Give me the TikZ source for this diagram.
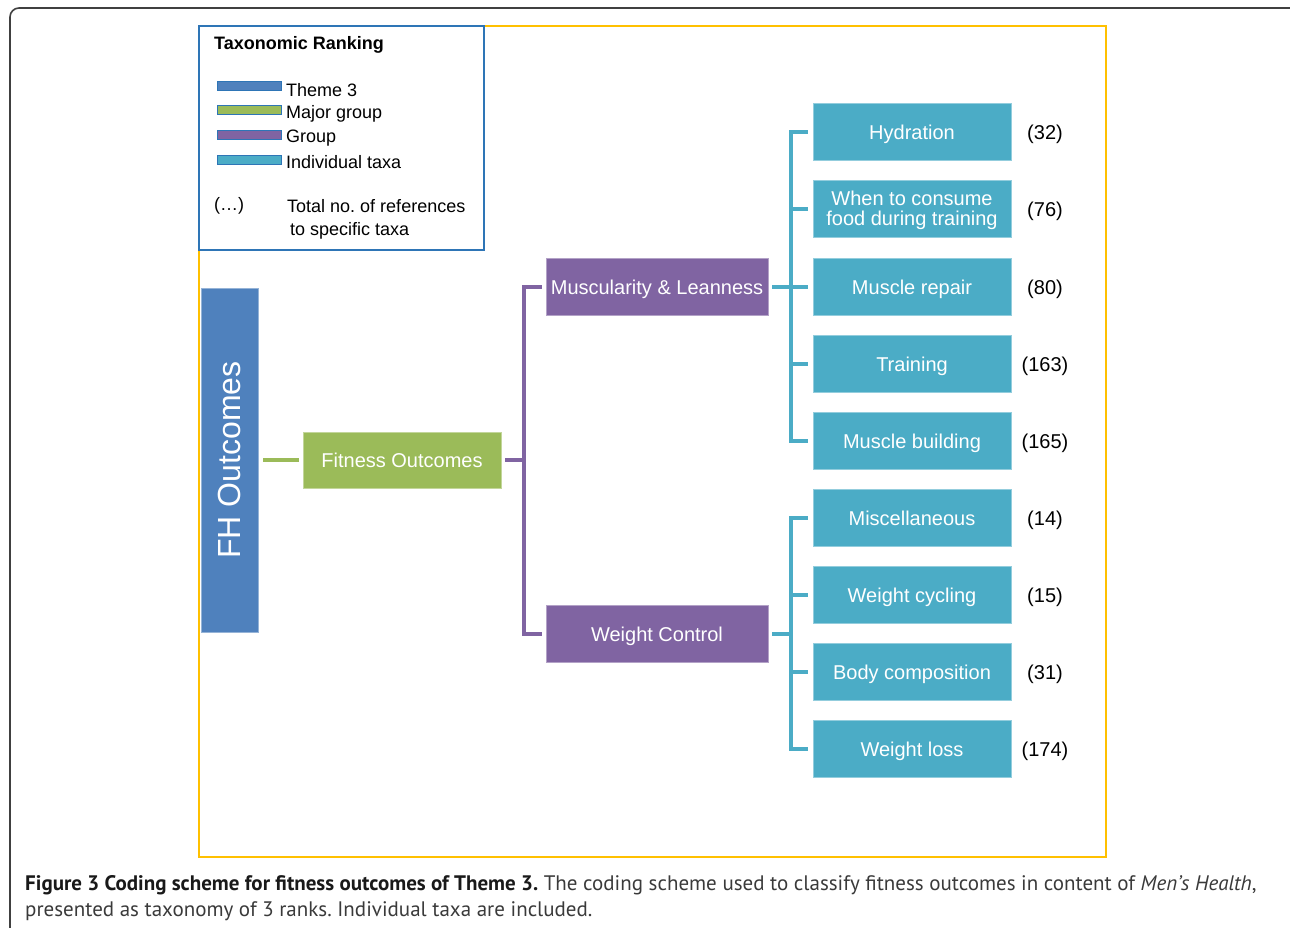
\documentclass[tikz,border=0pt]{standalone}
\usepackage{fontspec}
\setmainfont{Liberation Sans}
\newfontfamily\capfont{PT Sans}
\definecolor{cBlue}{HTML}{4F81BD}
\definecolor{cGreen}{HTML}{9BBB59}
\definecolor{cPurple}{HTML}{8064A2}
\definecolor{cTeal}{HTML}{4BACC6}
\definecolor{cYellow}{HTML}{FFC000}
\definecolor{cLegend}{HTML}{2E75B6}
\definecolor{cCapGray}{HTML}{3A3A3A}
\frenchspacing
\begin{document}
\frenchspacing
\begin{tikzpicture}[x=1pt,y=-1pt,
  boxbase/.style={inner sep=0pt, align=center, text=white, font=\fontsize{20}{22}\selectfont, line width=0.8pt},
  oneline/.style={text height=18.5pt, text depth=4pt},
  fhbox/.style={boxbase, fill=cBlue, draw=cBlue!60!white, minimum width=344pt, minimum height=57pt, rotate=90, font=\fontsize{32}{34}\selectfont},
  greenbox/.style={boxbase, oneline, fill=cGreen, draw=cGreen!60!white, minimum width=198pt, minimum height=56pt},
  purplebox/.style={boxbase, oneline, fill=cPurple, draw=cPurple!60!white, minimum width=222pt, minimum height=57pt},
  tealbox/.style={boxbase, fill=cTeal, draw=cTeal!60!white, minimum width=198pt, minimum height=57pt},
  countlbl/.style={inner sep=0pt, font=\fontsize{20}{22}\selectfont},
  greenline/.style={draw=cGreen, line width=3.5pt},
  purpleline/.style={draw=cPurple, line width=3.5pt},
  tealline/.style={draw=cTeal, line width=3.5pt},
  legbar/.style={draw=cLegend, line width=1pt},
  legtext/.style={anchor=west, inner sep=0pt, font=\fontsize{18}{20}\selectfont},
  captext/.style={anchor=base west, inner sep=0pt, font=\capfont\fontsize{21}{26}\selectfont, text=cCapGray},
]
\useasboundingbox (0,0) rectangle (1290,928);
\clip (0,0) rectangle (1290,928);
% outer frame
\draw[black!75, line width=1.6pt, rounded corners=9pt] (10,8) rectangle (1300,940);
% yellow frame
\draw[cYellow, line width=1.6pt] (199,26) rectangle (1106,857);
% legend
\draw[cLegend, line width=1.6pt, fill=white] (199,26) rectangle (484,250);
\node[legtext, font=\bfseries\fontsize{18}{20}\selectfont] (legtitle) at (214,45) {Taxonomic Ranking};
\draw[legbar, fill=cBlue]   (217,82) rectangle (281,91);
\draw[legbar, fill=cGreen]  (217,106) rectangle (281,115);
\draw[legbar, fill=cPurple] (217,131) rectangle (281,140);
\draw[legbar, fill=cTeal]   (217,156) rectangle (281,165);
\node[legtext] (lg1) at (286,90) {Theme 3};
\node[legtext] (lg2) at (286,114) {Major group};
\node[legtext] (lg3) at (286,138) {Group};
\node[legtext] (lg4) at (286,162) {Individual taxa};
\node[legtext] (lgdots) at (214,206) {(…)};
\node[legtext] (lgtot) at (287,206) {Total no. of references};
\node[legtext] (lgspec) at (290,231) {to specific taxa};
% main boxes
\node[fhbox] (fh) at (229.5,460) {FH Outcomes};
\node[greenbox] (fo) at (402,460) {Fitness Outcomes};
\node[purplebox] (ml) at (657,287) {Muscularity \& Leanness};
\node[purplebox] (wc) at (657,634) {Weight Control};
% teal boxes
\node[tealbox, oneline] (t1) at (912,132) {Hydration};
\node[tealbox] (t2) at (912,209) {};
\node[boxbase, anchor=center] (t2txt) at ([yshift=-1.5pt]t2.center) {When to consume\\[-2pt]food during training};
\node[tealbox, oneline] (t3) at (912,287) {Muscle repair};
\node[tealbox, oneline] (t4) at (912,364) {Training};
\node[tealbox, oneline] (t5) at (912,441) {Muscle building};
\node[tealbox, oneline] (t6) at (912,518) {Miscellaneous};
\node[tealbox, oneline] (t7) at (912,595) {Weight cycling};
\node[tealbox, oneline] (t8) at (912,672) {Body composition};
\node[tealbox, oneline] (t9) at (912,749) {Weight loss};
% counts
\node[countlbl] (n1) at (1045,134) {(32)};
\node[countlbl] (n2) at (1045,211) {(76)};
\node[countlbl] (n3) at (1045,289) {(80)};
\node[countlbl] (n4) at (1045,366) {(163)};
\node[countlbl] (n5) at (1045,443) {(165)};
\node[countlbl] (n6) at (1045,520) {(14)};
\node[countlbl] (n7) at (1045,597) {(15)};
\node[countlbl] (n8) at (1045,674) {(31)};
\node[countlbl] (n9) at (1045,751) {(174)};
% connectors
\draw[greenline] ([xshift=5pt]fh.south) -- ([xshift=-4pt]fo.west);
\coordinate (pj) at (524,460);
\draw[purpleline] ([xshift=4pt]fo.east) -- (pj);
\draw[purpleline] ([xshift=-4pt]ml.west) -| (pj);
\draw[purpleline] ([xshift=-4pt]wc.west) -| (pj);
\coordinate (tj1) at (791,287);
\coordinate (tj2) at (791,634);
\draw[tealline] ([xshift=4pt]ml.east) -- (tj1);
\draw[tealline] ([xshift=4pt]wc.east) -- (tj2);
\foreach \c in {t1,t2,t3,t4,t5}{\draw[tealline] ([xshift=-5pt]\c.west) -| (tj1);}
\foreach \c in {t6,t7,t8,t9}{\draw[tealline] ([xshift=-5pt]\c.west) -| (tj2);}
% caption
\node[captext] (cap1) at (25,890)
{{\bfseries\color{black!90}Figure 3 Coding scheme for fitness outcomes of Theme 3.} The coding scheme used to classify fitness outcomes in content of \textit{Men’s Health},};
\node[captext] (cap2) at (25,916) {presented as taxonomy of 3 ranks. Individual taxa are included.};
\end{tikzpicture}
\end{document}
